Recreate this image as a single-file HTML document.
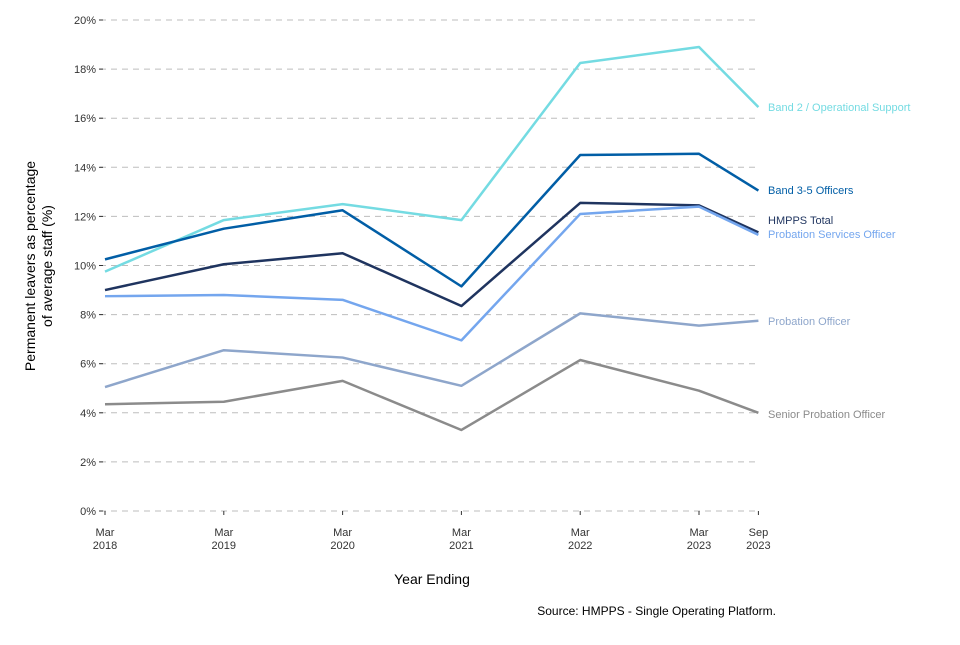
<!DOCTYPE html>
<html><head><meta charset="utf-8"><style>
body{margin:0;background:#fff;font-family:"Liberation Sans",sans-serif}
svg text{font-family:"Liberation Sans",sans-serif}
</style></head><body>
<svg id="chart" width="960" height="640">
<g id="grid"></g><g id="lines"></g><g id="axes"></g>
<text x="0" y="0" transform="translate(43,266) rotate(-90)" text-anchor="middle" font-size="14" fill="#000"><tspan x="0" dy="-8">Permanent leavers as percentage</tspan><tspan x="0" dy="17">of average staff (%)</tspan></text>
<text x="432" y="584" text-anchor="middle" font-size="14" fill="#000">Year Ending</text>
<text x="776" y="615" text-anchor="end" font-size="12" fill="#000">Source: HMPPS - Single Operating Platform.</text>
</svg>
<script>
const xPos = [0,1,2,3,4,5,5.5];
const xLabels = [["Mar","2018"],["Mar","2019"],["Mar","2020"],["Mar","2021"],["Mar","2022"],["Mar","2023"],["Sep","2023"]];
const yTicks = [0,2,4,6,8,10,12,14,16,18,20];
const seriesNames = ["Band 2 / Operational Support","Band 3-5 Officers","HMPPS Total","Probation Services Officer","Probation Officer","Senior Probation Officer"];
const band2 = [9.75,11.85,12.5,11.85,18.25,18.9,16.45];
const band35 = [10.25,11.5,12.25,9.15,14.5,14.55,13.05];
const total = [9.0,10.05,10.5,8.35,12.55,12.45,11.35];
const pso = [8.75,8.8,8.6,6.95,12.1,12.4,11.25];
const po = [5.05,6.55,6.25,5.1,8.05,7.55,7.75];
const spo = [4.35,4.45,5.3,3.3,6.15,4.9,4.0];
const colors = ["#74dbe2","#015ea6","#1f345f","#74a6ee","#8ea6cb","#8b8b8b"];
const labelY = [107,190,220,234,321,414];
const all=[band2,band35,total,pso,po,spo];
const NS="http://www.w3.org/2000/svg";
const X=v=>105+v*118.8, Y=v=>511-v*24.55;
function mk(t,a,p){const e=document.createElementNS(NS,t);for(const k in a)e.setAttribute(k,a[k]);p.appendChild(e);return e;}
const g=document.getElementById('grid'),ax=document.getElementById('axes'),L=document.getElementById('lines');
yTicks.forEach(t=>{
 const l=mk('line',{x1:100,x2:760,y1:Y(t),y2:Y(t),stroke:'#bdbdbd','stroke-width':1,'stroke-dasharray':'6,5'},g);
 
 
 const tk=mk('line',{x1:99,x2:103,y1:Y(t),y2:Y(t),stroke:'#333','stroke-width':1},ax);
 
 
 const tx=mk('text',{x:96,y:Y(t)+4,'text-anchor':'end','font-size':11,fill:'#333'},ax);
 tx.textContent=t+'%';
 
 
});
xPos.forEach((v,i)=>{
 const tk=mk('line',{x1:X(v),x2:X(v),y1:511,y2:515,stroke:'#333','stroke-width':1},ax);
 
 
 const tx=mk('text',{x:X(v),y:536,'text-anchor':'middle','font-size':11,fill:'#333'},ax);
 
 
 xLabels[i].forEach((s,j)=>{const ts=mk('tspan',{x:X(v),dy:j?13:0},tx);ts.textContent=s;});
});
all.forEach((d,si)=>{
 const pts=d.map((v,i)=>X(xPos[i])+','+Y(v)).join(' ');
 const p=mk('polyline',{points:pts,fill:'none',stroke:colors[si],'stroke-width':2.5,'stroke-linejoin':'round'},L);
 
 
 const t=mk('text',{x:768,y:labelY[si]+4,'font-size':11,fill:colors[si]},L);
 t.textContent=seriesNames[si];
 
 
});
</script>
</body></html>
